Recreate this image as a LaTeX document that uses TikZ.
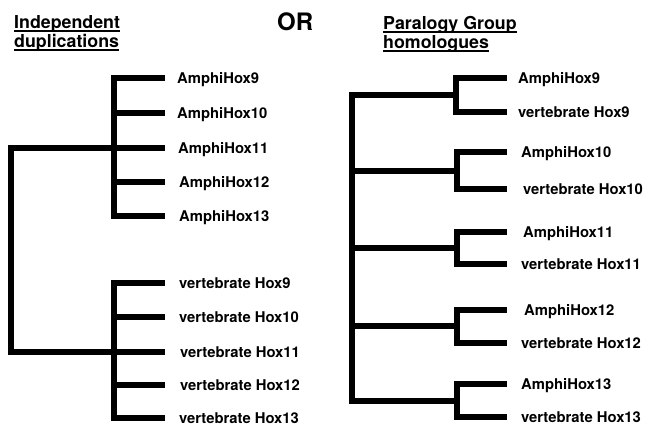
\documentclass[tikz,border=0pt]{standalone}
\usepackage{fontspec}
\setmainfont{TeX Gyre Heros}
\usepackage{tikz}
\usetikzlibrary{calc}
\usetikzlibrary{positioning}
\tikzstyle{leafnode} = [inner sep=0pt, anchor=base west, font=\fontsize{14.8}{17}\selectfont\bfseries]
\tikzstyle{titlenode} = [inner sep=0pt, anchor=base west, font=\fontsize{17.8}{20}\selectfont\bfseries]
\tikzstyle{ornode} = [inner sep=0pt, anchor=base west, font=\fontsize{24}{28}\selectfont\bfseries]
\tikzstyle{branch} = [line width=6pt, line join=miter, line cap=butt]
\newcommand\ulword[1]{\setbox0\hbox{#1}\rlap{\rule[-3.6pt]{\wd0}{1.6pt}}\box0}

\begin{document}
\begin{tikzpicture}[x=1pt, y=-1pt]
\useasboundingbox (0,0) rectangle (647,429);

% headings
\node[titlenode] (indep) at (14,28) {\ulword{Independent}};
\node[titlenode] (dupl) at ($(indep.base west)+(0,19)$) {\ulword{duplications}};
\node[ornode] (or) at (277,30) {OR};
\node[titlenode] (paral) at (383,29) {\ulword{Paralogy Group}};
\node[titlenode] (homol) at ($(paral.base west)+(0,19)$) {\ulword{homologues}};

% left tree: independent duplications
\coordinate (rootL) at (11,250);
\coordinate (amphiJ) at (114,148);
\coordinate (vertJ) at (114,352);
\coordinate (ta9) at (165,78);
\coordinate (ta10) at (165,113);
\coordinate (ta11) at (165,148);
\coordinate (ta12) at (165,182);
\coordinate (ta13) at (165,216);
\coordinate (tv9) at (165,283);
\coordinate (tv10) at (165,317);
\coordinate (tv11) at (165,352);
\coordinate (tv12) at (165,385);
\coordinate (tv13) at (165,418);

\draw[branch] (amphiJ) -| (rootL) |- (vertJ);
\draw[branch] (amphiJ) |- (ta9);
\draw[branch] (amphiJ) |- (ta10);
\draw[branch] (amphiJ) -- (ta11);
\draw[branch] (amphiJ) |- (ta12);
\draw[branch] (amphiJ) |- (ta13);
\draw[branch] (vertJ) |- (tv9);
\draw[branch] (vertJ) |- (tv10);
\draw[branch] (vertJ) -- (tv11);
\draw[branch] (vertJ) |- (tv12);
\draw[branch] (vertJ) |- (tv13);

\node[leafnode] (a9) at ($(ta9)+(12,5.3)$) {AmphiHox9};
\node[leafnode] (a10) at ($(ta10)+(12,5.3)$) {AmphiHox10};
\node[leafnode] (a11) at ($(ta11)+(13,5.3)$) {AmphiHox11};
\node[leafnode] (a12) at ($(ta12)+(14,5.3)$) {AmphiHox12};
\node[leafnode] (a13) at ($(ta13)+(14,5.3)$) {AmphiHox13};
\node[leafnode] (v9) at ($(tv9)+(14,5.3)$) {vertebrate Hox9};
\node[leafnode] (v10) at ($(tv10)+(14,5.3)$) {vertebrate Hox10};
\node[leafnode] (v11) at ($(tv11)+(15,5.3)$) {vertebrate Hox11};
\node[leafnode] (v12) at ($(tv12)+(15,5.3)$) {vertebrate Hox12};
\node[leafnode] (v13) at ($(tv13)+(14,5.3)$) {vertebrate Hox13};

% right tree: paralogy group homologues
\coordinate (rootR) at (352,250);
\coordinate (p9) at (456,95);
\coordinate (p10) at (457,171);
\coordinate (p11) at (457,248);
\coordinate (p12) at (457,326);
\coordinate (p13) at (457,401);
\coordinate (ra9t) at (507,78);
\coordinate (rv9t) at (507,112);
\coordinate (ra10t) at (507,152);
\coordinate (rv10t) at (507,189);
\coordinate (ra11t) at (507,232);
\coordinate (rv11t) at (507,264);
\coordinate (ra12t) at (507,310);
\coordinate (rv12t) at (507,343);
\coordinate (ra13t) at (507,384);
\coordinate (rv13t) at (507,417);

\draw[branch] (p9) -| (rootR) |- (p13);
\draw[branch] (rootR) |- (p10);
\draw[branch] (rootR) |- (p11);
\draw[branch] (rootR) |- (p12);
\draw[branch] (p9) |- (ra9t);
\draw[branch] (p9) |- (rv9t);
\draw[branch] (p10) |- (ra10t);
\draw[branch] (p10) |- (rv10t);
\draw[branch] (p11) |- (ra11t);
\draw[branch] (p11) |- (rv11t);
\draw[branch] (p12) |- (ra12t);
\draw[branch] (p12) |- (rv12t);
\draw[branch] (p13) |- (ra13t);
\draw[branch] (p13) |- (rv13t);

\node[leafnode] (ra9) at ($(ra9t)+(11,5.3)$) {AmphiHox9};
\node[leafnode] (rv9) at ($(rv9t)+(11,5.3)$) {vertebrate Hox9};
\node[leafnode] (ra10) at ($(ra10t)+(14,5.3)$) {AmphiHox10};
\node[leafnode] (rv10) at ($(rv10t)+(16,5.3)$) {vertebrate Hox10};
\node[leafnode] (ra11) at ($(ra11t)+(16,5.3)$) {AmphiHox11};
\node[leafnode] (rv11) at ($(rv11t)+(14,5.3)$) {vertebrate Hox11};
\node[leafnode] (ra12) at ($(ra12t)+(17,5.3)$) {AmphiHox12};
\node[leafnode] (rv12) at ($(rv12t)+(14,5.3)$) {vertebrate Hox12};
\node[leafnode] (ra13) at ($(ra13t)+(14,5.3)$) {AmphiHox13};
\node[leafnode] (rv13) at ($(rv13t)+(14,5.3)$) {vertebrate Hox13};
\end{tikzpicture}
\end{document}
